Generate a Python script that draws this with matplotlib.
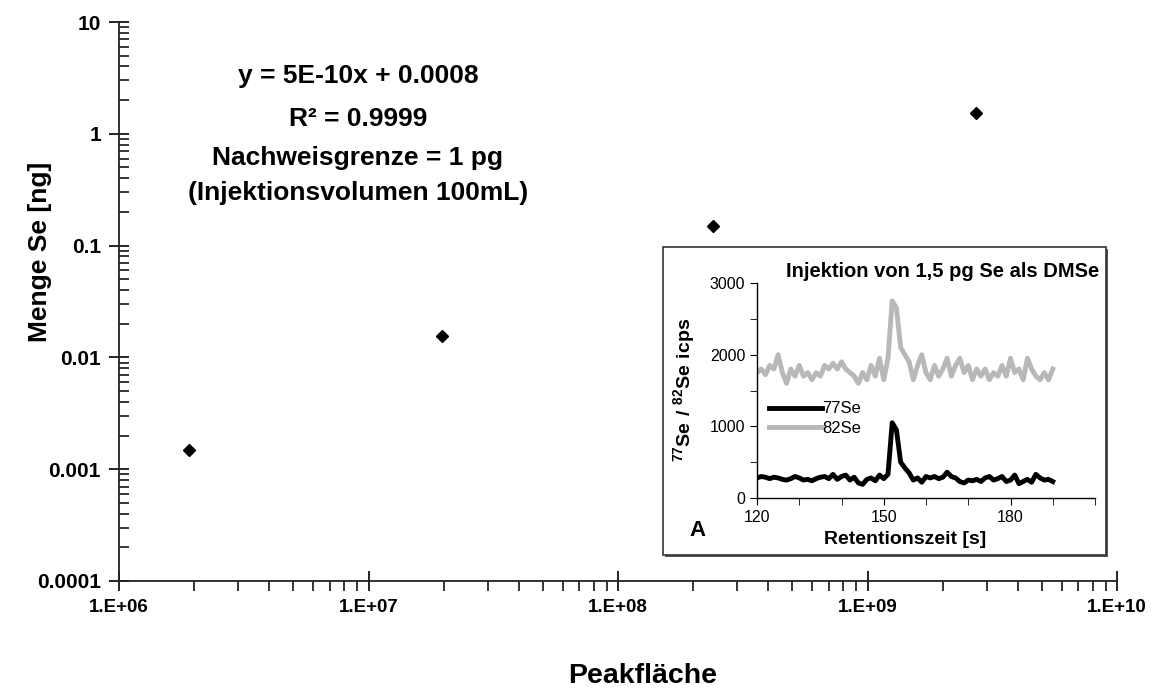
import numpy as np
import matplotlib
matplotlib.use("Agg")
import matplotlib.pyplot as plt
from matplotlib.patches import Rectangle
from matplotlib.ticker import LogLocator, FixedLocator, MultipleLocator, NullFormatter

plt.rcParams['font.family'] = ['Liberation Sans', 'DejaVu Sans']
plt.rcParams['mathtext.fontset'] = 'custom'
plt.rcParams['mathtext.rm'] = 'Liberation Sans'
plt.rcParams['mathtext.bf'] = 'Liberation Sans:bold'

# calibration points (main chart)
peak_area = [1.9e6, 1.97e7, 2.4e8, 2.72e9]
amount_se = [0.0015, 0.0155, 0.15, 1.53]

y_ticks = [0.0001, 0.001, 0.01, 0.1, 1, 10]
y_ticklabels = ['0.0001', '0.001', '0.01', '0.1', '1', '10']
x_ticks = [1e6, 1e7, 1e8, 1e9, 1e10]
x_ticklabels = ['1.E+06', '1.E+07', '1.E+08', '1.E+09', '1.E+10']

fit_lines = ['y = 5E-10x + 0.0008', 'R² = 0.9999',
             'Nachweisgrenze = 1 pg', '(Injektionsvolumen 100mL)']

# inset chromatogram, one value per second from 120 s to 190 s
ret_time = list(range(120, 191))
se77 = [280, 300, 290, 270, 290, 280, 260, 250, 270, 300,
        280, 250, 260, 240, 270, 290, 300, 270, 330, 260,
        300, 320, 250, 290, 210, 190, 260, 280, 240, 320,
        270, 330, 1050, 950, 500, 420, 350, 250, 280, 220,
        300, 280, 300, 270, 290, 360, 300, 280, 230, 210,
        250, 240, 260, 230, 280, 300, 250, 270, 300, 230,
        250, 320, 200, 230, 260, 220, 330, 280, 250, 260,
        230]
se82 = [1750, 1800, 1720, 1850, 1800, 2000, 1750, 1600, 1800, 1700,
        1850, 1700, 1750, 1650, 1750, 1700, 1850, 1800, 1880, 1800,
        1900, 1800, 1750, 1700, 1600, 1750, 1650, 1850, 1700, 1950,
        1650, 1950, 2750, 2650, 2100, 2000, 1900, 1650, 1850, 2000,
        1750, 1650, 1850, 1700, 1800, 1950, 1700, 1850, 1950, 1750,
        1850, 1650, 1800, 1700, 1800, 1650, 1750, 1700, 1850, 1700,
        1950, 1750, 1800, 1650, 1950, 1800, 1700, 1650, 1750, 1650,
        1800]

W, H = 1157, 693
fig = plt.figure(figsize=(W / 100, H / 100), dpi=100)
fig.patch.set_facecolor('white')


def fx(px):
    return px / W


def fy(py):
    return 1 - py / H


# ---- main chart ----
ax = fig.add_axes([fx(119), fy(581), fx(1117) - fx(119), fy(22) - fy(581)])
ax.plot(peak_area, amount_se, linestyle='none', marker='D', markersize=6,
        color='black')
ax.set_xscale('log')
ax.set_yscale('log')
ax.set_xlim(1e6, 1e10)
ax.set_ylim(1e-4, 10)
for s in ['top', 'right']:
    ax.spines[s].set_visible(False)
for s in ['left', 'bottom']:
    ax.spines[s].set_linewidth(1.3)
    ax.spines[s].set_color('#222222')

ax.xaxis.set_major_locator(FixedLocator(x_ticks))
ax.set_xticklabels(x_ticklabels)
ax.xaxis.set_minor_locator(LogLocator(base=10, subs=np.arange(2, 10)))
ax.xaxis.set_minor_formatter(NullFormatter())
ax.yaxis.set_major_locator(FixedLocator(y_ticks))
ax.set_yticklabels(y_ticklabels)
ax.yaxis.set_minor_locator(LogLocator(base=10, subs=np.arange(2, 10)))
ax.yaxis.set_minor_formatter(NullFormatter())

ax.tick_params(axis='x', which='major', direction='inout', length=14,
               width=1.2, labelsize=13.5, pad=6)
ax.tick_params(axis='x', which='minor', direction='out', length=7, width=1.1)
ax.tick_params(axis='y', which='major', direction='inout', length=14,
               width=1.2, labelsize=15, pad=6)
ax.tick_params(axis='y', which='minor', direction='in', length=7, width=1.1)
for lbl in ax.get_xticklabels() + ax.get_yticklabels():
    lbl.set_fontweight('bold')

fig.text(fx(40), fy(252), 'Menge Se [ng]', rotation=90, ha='center',
         va='center', fontsize=19, fontweight='bold')
fig.text(fx(643), fy(676), 'Peakfläche', ha='center', va='center',
         fontsize=20.5, fontweight='bold')

for i, line in enumerate(fit_lines):
    fig.text(fx(358), fy([76, 119, 158, 193][i]), line, ha='center',
             va='center', fontsize=19, fontweight='bold')

# ---- inset ----
shadow = Rectangle((fx(665), fy(557)), fx(443), fy(0) - fy(308),
                   transform=fig.transFigure, facecolor='#555555',
                   edgecolor='none', zorder=1)
box = Rectangle((fx(663), fy(555)), fx(443), fy(0) - fy(308),
                transform=fig.transFigure, facecolor='white',
                edgecolor='#333333', linewidth=1.2, zorder=1.5)
fig.add_artist(shadow)
fig.add_artist(box)

axi = fig.add_axes([fx(757), fy(498), fx(1095) - fx(757), fy(283) - fy(498)])
axi.set_zorder(3)
axi.patch.set_alpha(0)
axi.plot(ret_time, se77, color='black', linewidth=3.5, label='77Se')
axi.plot(ret_time, se82, color='#b8b8b8', linewidth=3.5, label='82Se')
axi.set_xlim(120, 200)
axi.set_ylim(0, 3000)
for s in ['top', 'right']:
    axi.spines[s].set_visible(False)
for s in ['left', 'bottom']:
    axi.spines[s].set_linewidth(1.0)
axi.xaxis.set_major_locator(FixedLocator([120, 150, 180]))
axi.xaxis.set_minor_locator(MultipleLocator(10))
axi.yaxis.set_major_locator(MultipleLocator(1000))
axi.yaxis.set_minor_locator(MultipleLocator(500))
axi.tick_params(which='major', direction='out', length=5, labelsize=11.5)
axi.tick_params(which='minor', direction='out', length=5)

axi.legend(loc='upper left', bbox_to_anchor=(0.015, 0.48), frameon=False,
           fontsize=12, handlelength=3.2, handletextpad=0.0,
           borderaxespad=0.0, labelspacing=0.25)

fig.text(fx(943), fy(272), 'Injektion von 1,5 pg Se als DMSe',
         ha='center', va='center', fontsize=14.5, fontweight='bold')
fig.text(fx(905), fy(539), 'Retentionszeit [s]', ha='center', va='center',
         fontsize=14, fontweight='bold')
fig.text(fx(684), fy(390), r'$\mathbf{^{77}Se\ /\ ^{82}Se\ icps}$',
         rotation=90, ha='center', va='center', fontsize=14)
fig.text(fx(697), fy(530), 'A', ha='center', va='center', fontsize=16,
         fontweight='bold')

fig.savefig('out.png', dpi=100)
